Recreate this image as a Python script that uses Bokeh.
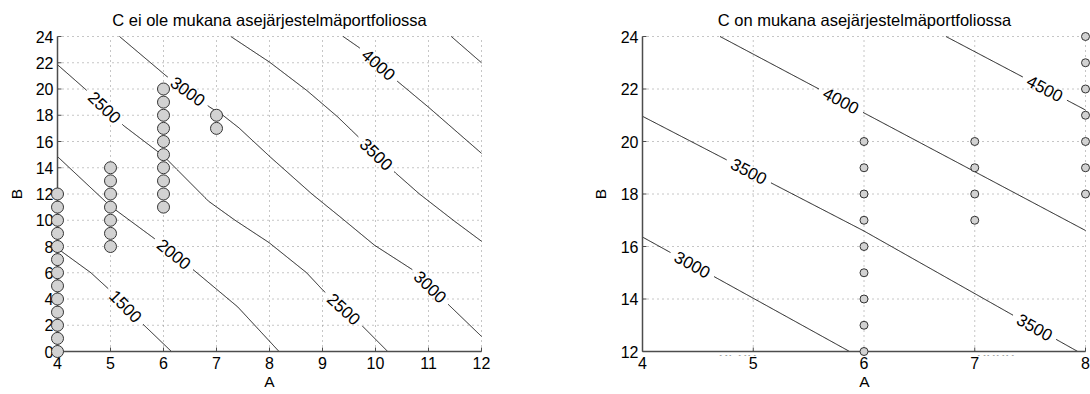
import numpy as np
from bokeh.plotting import figure
from bokeh.layouts import row
from bokeh.models import LinearAxis, FixedTicker, Range1d
from bokeh.core.properties import value
from bokeh.embed import file_html
from bokeh.resources import INLINE

FONT = "Liberation Sans"

# ---------------- data ----------------
LEFT_TITLE = "C ei ole mukana asejärjestelmäportfoliossa"
RIGHT_TITLE = "C on mukana asejärjestelmäportfoliossa"
X_LABEL = "A"
Y_LABEL = "B"

left_x_ticks = [4, 5, 6, 7, 8, 9, 10, 11, 12]
left_y_ticks = [0, 2, 4, 6, 8, 10, 12, 14, 16, 18, 20, 22, 24]
right_x_ticks = [4, 5, 6, 7, 8]
right_y_ticks = [12, 14, 16, 18, 20, 22, 24]

# marker points (A, B)
left_pts_A = [4, 4, 4, 4, 4, 4, 4, 4, 4, 4, 4, 4, 4,
              5, 5, 5, 5, 5, 5, 5,
              6, 6, 6, 6, 6, 6, 6, 6, 6, 6,
              7, 7]
left_pts_B = [0, 1, 2, 3, 4, 5, 6, 7, 8, 9, 10, 11, 12,
              8, 9, 10, 11, 12, 13, 14,
              11, 12, 13, 14, 15, 16, 17, 18, 19, 20,
              17, 18]
right_pts_A = [6, 6, 6, 6, 6, 6, 6, 6, 6,
               7, 7, 7, 7,
               8, 8, 8, 8, 8, 8, 8]
right_pts_B = [12, 13, 14, 15, 16, 17, 18, 19, 20,
               17, 18, 19, 20,
               18, 19, 20, 21, 22, 23, 24]

# left panel contour lines (A, B) and label anchors
L1500_A = [4.00, 4.63, 4.97, 5.60, 6.15]
L1500_B = [7.85, 6.00, 4.74, 2.13, 0.00]
L1500_lab_A = [5.28]
L1500_lab_B = [3.46]

L2000_A = [4.00, 5.00, 5.85, 6.60, 7.40, 8.18]
L2000_B = [14.85, 11.07, 8.54, 6.10, 3.40, 0.00]
L2000_lab_A = [6.20]
L2000_lab_B = [7.40]

L2500_A = [4.00, 4.55, 5.25, 6.00, 6.85, 7.35, 7.99, 8.70, 9.01, 9.75, 10.23]
L2500_B = [21.85, 19.90, 17.20, 14.90, 11.45, 10.00, 8.30, 6.00, 4.66, 1.95, 0.00]
L2500_lab_A = [4.89, 9.40]
L2500_lab_B = [18.59, 3.23]

L3000_A = [5.17, 6.05, 6.88, 7.12, 7.42, 8.02, 8.80, 9.35, 9.98, 10.71, 11.37, 12.00]
L3000_B = [24.00, 21.00, 18.60, 18.00, 17.05, 14.80, 12.00, 10.20, 8.10, 6.20, 3.60, 1.15]
L3000_lab_A = [6.46, 11.04]
L3000_lab_B = [19.80, 4.90]

L3500_A = [7.27, 8.00, 8.70, 9.28, 9.69, 10.38, 10.83, 11.49, 12.00]
L3500_B = [24.00, 22.05, 19.90, 17.90, 16.30, 13.60, 12.00, 9.93, 8.40]
L3500_lab_A = [10.02]
L3500_lab_B = [15.00]

L4000_A = [9.39, 9.69, 10.41, 11.01, 12.00]
L4000_B = [24.00, 23.16, 20.60, 18.58, 15.10]
L4000_lab_A = [10.05]
L4000_lab_B = [21.88]

L4500_A = [11.43, 12.00]
L4500_B = [24.00, 22.00]
L4500_lab_A = []
L4500_lab_B = []

# right panel contour lines
R3000_A = [4.00, 5.87]
R3000_B = [16.36, 12.00]
R3000_lab_A = [4.45]
R3000_lab_B = [15.31]

R3500_A = [4.00, 6.00, 7.33, 7.93]
R3500_B = [20.96, 16.59, 13.42, 12.00]
R3500_lab_A = [4.96, 7.54]
R3500_lab_B = [18.86, 12.92]

R4000_A = [4.70, 8.00]
R4000_B = [24.00, 16.61]
R4000_lab_A = [5.79]
R4000_lab_B = [21.56]

R4500_A = [6.74, 8.00]
R4500_B = [24.00, 21.20]
R4500_lab_A = [7.62]
R4500_lab_B = [21.93]

# labels of contours just below the right panel's lower edge (mostly hidden)
R_edge_text = ["2500", "3000"]
R_edge_A = [4.86, 7.19]
R_edge_B = [11.70, 11.70]

LEFT_CONTOURS = [
    ("1500", L1500_A, L1500_B, L1500_lab_A, L1500_lab_B),
    ("2000", L2000_A, L2000_B, L2000_lab_A, L2000_lab_B),
    ("2500", L2500_A, L2500_B, L2500_lab_A, L2500_lab_B),
    ("3000", L3000_A, L3000_B, L3000_lab_A, L3000_lab_B),
    ("3500", L3500_A, L3500_B, L3500_lab_A, L3500_lab_B),
    ("4000", L4000_A, L4000_B, L4000_lab_A, L4000_lab_B),
    ("4500", L4500_A, L4500_B, L4500_lab_A, L4500_lab_B),
]
RIGHT_CONTOURS = [
    ("3000", R3000_A, R3000_B, R3000_lab_A, R3000_lab_B),
    ("3500", R3500_A, R3500_B, R3500_lab_A, R3500_lab_B),
    ("4000", R4000_A, R4000_B, R4000_lab_A, R4000_lab_B),
    ("4500", R4500_A, R4500_B, R4500_lab_A, R4500_lab_B),
]

# ---------------- styling ----------------
GRID_COLOR = "#8c8c8c"
AXIS_COLOR = "#4d4d4d"
LINE_COLOR = "#1a1a1a"
MARK_FILL = "#d2d2d2"
MARK_LINE = "#333333"
GAP_PX = 24.0
TICK_PX = 4.0
TICK_FONT = "16px"
LABEL_FONT = "15.5px"
CONTOUR_FONT = "17px"
TITLE_FONT = "16.5px"


def cut_for_labels(A, B, lab_A, lab_B, sx, sy, gap):
    """Open gaps in a contour polyline where its inline labels sit."""
    X = np.asarray(A, float) * sx
    Y = np.asarray(B, float) * sy
    px, py = [X[0]], [Y[0]]
    for i in range(len(X) - 1):
        n = max(int(np.ceil(np.hypot(X[i + 1] - X[i], Y[i + 1] - Y[i]))), 1)
        t = np.arange(1, n + 1) / n
        px.extend(X[i] + (X[i + 1] - X[i]) * t)
        py.extend(Y[i] + (Y[i + 1] - Y[i]) * t)
    px = np.array(px)
    py = np.array(py)
    keep = np.ones(len(px), bool)
    lx, ly, la = [], [], []
    for a, b in zip(lab_A, lab_B):
        d = np.hypot(px - a * sx, py - b * sy)
        k = int(np.argmin(d))
        cx, cy = px[k], py[k]
        k0, k1 = max(k - 6, 0), min(k + 6, len(px) - 1)
        ang = np.arctan2(py[k1] - py[k0], px[k1] - px[k0])
        if ang > np.pi / 2:
            ang -= np.pi
        if ang < -np.pi / 2:
            ang += np.pi
        keep &= np.hypot(px - cx, py - cy) > gap
        lx.append(cx / sx)
        ly.append(cy / sy)
        la.append(float(ang))
    segs_x, segs_y = [], []
    cur = []
    for i in range(len(px)):
        if keep[i]:
            cur.append(i)
        else:
            if len(cur) > 1:
                segs_x.append(list(px[cur] / sx))
                segs_y.append(list(py[cur] / sy))
            cur = []
    if len(cur) > 1:
        segs_x.append(list(px[cur] / sx))
        segs_y.append(list(py[cur] / sy))
    return segs_x, segs_y, lx, ly, la


def make_panel(title, xticks, yticks, sx, sy, pad_l, pad_r, pad_v,
               border_left, border_right, contours, pts_A, pts_B, mark_size,
               ylab_standoff, edge=None):
    x0, x1 = xticks[0], xticks[-1]
    y0, y1 = yticks[0], yticks[-1]
    fw = int(round((x1 - x0) * sx + pad_l + pad_r))
    fh = int(round((y1 - y0) * sy + 2 * pad_v))
    xr = Range1d(x0 - pad_l / sx, x1 + pad_r / sx)
    yr = Range1d(y0 - pad_v / sy, y1 + pad_v / sy)
    p = figure(frame_width=fw, frame_height=fh, x_range=xr, y_range=yr,
               x_axis_type=None, y_axis_type=None, toolbar_location=None,
               output_backend="svg", min_border_left=border_left,
               min_border_right=border_right, min_border_top=32,
               min_border_bottom=39, title=title)
    p.outline_line_color = None
    p.background_fill_color = "white"
    p.border_fill_color = "white"
    p.title.align = "center"
    p.title.text_font = FONT
    p.title.text_font_size = TITLE_FONT
    p.title.text_font_style = "normal"
    p.title.text_color = "#000000"
    p.title.standoff = 8

    # dotted grid
    gx = [t for t in xticks if t != x0]
    gy = [t for t in yticks if t != y0]
    p.segment(x0=gx, y0=[y0] * len(gx), x1=gx, y1=[y1] * len(gx),
              line_color=GRID_COLOR, line_width=1, line_dash="1 4")
    p.segment(x0=[x0] * len(gy), y0=gy, x1=[x1] * len(gy), y1=gy,
              line_color=GRID_COLOR, line_width=1, line_dash="1 4")

    # contours with inline labels
    all_xs, all_ys = [], []
    tx, ty, tt, ta = [], [], [], []
    for text, A, B, lA, lB in contours:
        sxs, sys_, lx, ly, la = cut_for_labels(A, B, lA, lB, sx, sy, GAP_PX)
        all_xs += sxs
        all_ys += sys_
        tx += lx
        ty += ly
        ta += la
        tt += [text] * len(lx)
    p.multi_line(xs=all_xs, ys=all_ys, line_color=LINE_COLOR, line_width=1)
    p.text(x=tx, y=ty, text=tt, angle=ta, text_font=value(FONT),
           text_font_size=CONTOUR_FONT, text_align="center",
           text_baseline="middle", text_color="#000000")

    if edge is not None:
        etext, eA, eB = edge
        p.text(x=eA, y=eB, text=etext, text_font=value(FONT),
               text_font_size=CONTOUR_FONT, text_align="center",
               text_baseline="alphabetic", text_color="#000000")
        # everything below the lower axis is hidden, as in the reference
        p.quad(left=[xr.start], right=[xr.end], bottom=[yr.start], top=[y0],
               fill_color="white", line_color=None)

    # axis lines and inward ticks at the data edges
    p.segment(x0=[x0, x0], y0=[y0, y0], x1=[x0, x1], y1=[y1, y0],
              line_color=AXIS_COLOR, line_width=1.5)
    p.segment(x0=xticks, y0=[y0] * len(xticks), x1=xticks,
              y1=[y0 + TICK_PX / sy] * len(xticks),
              line_color=AXIS_COLOR, line_width=1)
    p.segment(x0=[x0] * len(yticks), y0=yticks,
              x1=[x0 + TICK_PX / sx] * len(yticks), y1=yticks,
              line_color=AXIS_COLOR, line_width=1)

    # markers
    p.scatter(x=pts_A, y=pts_B, marker="circle", size=mark_size,
              fill_color=MARK_FILL, line_color=MARK_LINE, line_width=1,
              level="overlay")

    # tick labels and axis titles
    xa = LinearAxis(ticker=FixedTicker(ticks=xticks), axis_label=X_LABEL)
    ya = LinearAxis(ticker=FixedTicker(ticks=yticks), axis_label=Y_LABEL)
    for ax in (xa, ya):
        ax.axis_line_color = None
        ax.major_tick_line_color = None
        ax.minor_tick_line_color = None
        ax.major_tick_in = 0
        ax.major_tick_out = 0
        ax.minor_tick_in = 0
        ax.minor_tick_out = 0
        ax.major_label_text_font = FONT
        ax.major_label_text_font_size = TICK_FONT
        ax.major_label_text_color = "#000000"
        ax.axis_label_text_font = FONT
        ax.axis_label_text_font_size = LABEL_FONT
        ax.axis_label_text_font_style = "normal"
        ax.axis_label_text_color = "#000000"
    xa.major_label_standoff = 1
    xa.axis_label_standoff = 1
    ya.major_label_standoff = 0
    ya.axis_label_standoff = ylab_standoff
    p.add_layout(xa, "below")
    p.add_layout(ya, "left")
    return p


# left: A 4..12 over 424 px, B 0..24 over 315 px
p1 = make_panel(LEFT_TITLE, left_x_ticks, left_y_ticks, 53.0, 13.125,
                4, 4, 4, 53, 60, LEFT_CONTOURS, left_pts_A, left_pts_B, 12, 8)
# right: A 4..8 over 443 px, B 12..24 over 315 px
p2 = make_panel(RIGHT_TITLE, right_x_ticks, right_y_ticks, 110.75, 26.25,
                4, 5, 4, 93, 0, RIGHT_CONTOURS, right_pts_A, right_pts_B, 8, 9,
                edge=(R_edge_text, R_edge_A, R_edge_B))

layout = row(p1, p2)
open("out.html", "w").write(file_html(layout, INLINE))
